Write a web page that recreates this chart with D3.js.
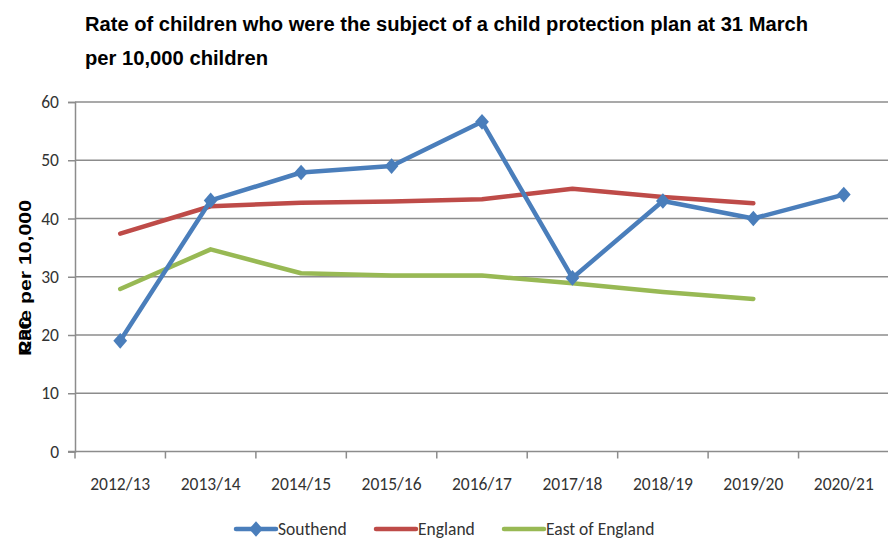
<!DOCTYPE html>
<html>
<head>
<meta charset="utf-8">
<script src="https://cdn.jsdelivr.net/npm/d3@7"></script>
<style>
  html, body { margin: 0; padding: 0; background: #fff; overflow: hidden; }
  svg { display: block; }
</style>
</head>
<body>
<svg id="chart" width="888" height="539"></svg>
<script>
// Rates per 10,000 children, at 31 March each year
const years = ["2012/13", "2013/14", "2014/15", "2015/16", "2016/17", "2017/18", "2018/19", "2019/20", "2020/21"];
const southend = [19.0, 43.1, 47.9, 49.0, 56.6, 29.8, 43.0, 40.0, 44.1];
const england = [37.4, 42.1, 42.7, 42.9, 43.3, 45.1, 43.7, 42.6, null];
const eastOfEngland = [27.9, 34.7, 30.6, 30.2, 30.2, 28.9, 27.4, 26.2, null];
const yTicks = [0, 10, 20, 30, 40, 50, 60];

const seriesList = [
  { name: "Southend", values: southend, color: "#4a7ebb", marker: true },
  { name: "England", values: england, color: "#be4b48", marker: false },
  { name: "East of England", values: eastOfEngland, color: "#98b954", marker: false }
];

const svg = d3.select("#chart");
const margin = { left: 75, right: 889, top: 102, bottom: 451.5 };

const x = d3.scaleBand().domain(years).range([margin.left, margin.right]).padding(0);
const y = d3.scaleLinear().domain([0, 60]).range([margin.bottom, margin.top]);

const labelFont = "Carlito, 'Liberation Sans', Arial, sans-serif";
const gridColor = "#8c8c8c";

// Title
const title = svg.append("g")
  .attr("font-family", "'Liberation Sans', Arial, sans-serif")
  .attr("font-weight", "bold")
  .attr("font-size", 20)
  .attr("fill", "#000");
title.append("text").attr("x", 85).attr("y", 31)
  .attr("textLength", 723).attr("lengthAdjust", "spacingAndGlyphs")
  .text("Rate of children who were the subject of a child  protection plan at 31 March");
title.append("text").attr("x", 85).attr("y", 65)
  .attr("textLength", 183).attr("lengthAdjust", "spacingAndGlyphs")
  .text("per 10,000 children");

// Horizontal gridlines
svg.append("g")
  .selectAll("line")
  .data(yTicks.filter(d => d > 0))
  .join("line")
  .attr("x1", margin.left).attr("x2", margin.right)
  .attr("y1", d => y(d)).attr("y2", d => y(d))
  .attr("stroke", gridColor).attr("stroke-width", 1.5);

// Y axis
const yAxis = svg.append("g")
  .attr("transform", `translate(${margin.left},0)`)
  .call(d3.axisLeft(y).tickValues(yTicks).tickSize(7).tickPadding(9).tickFormat(d3.format("d")));
yAxis.select(".domain").attr("stroke", gridColor).attr("stroke-width", 1.5);
yAxis.selectAll(".tick line").attr("stroke", gridColor).attr("stroke-width", 1.5);
yAxis.selectAll(".tick text")
  .attr("font-family", labelFont).attr("font-size", 17.5).attr("fill", "#333");

// X axis with tick marks at band boundaries
const xAxisG = svg.append("g").attr("transform", `translate(0,${margin.bottom})`);
xAxisG.append("line")
  .attr("x1", margin.left - 7).attr("x2", margin.right)
  .attr("stroke", gridColor).attr("stroke-width", 1.5);
xAxisG.selectAll("line.tk")
  .data(years)
  .join("line")
  .attr("class", "tk")
  .attr("x1", d => x(d)).attr("x2", d => x(d))
  .attr("y1", 0).attr("y2", 7)
  .attr("stroke", gridColor).attr("stroke-width", 1.5);
xAxisG.selectAll("text")
  .data(years)
  .join("text")
  .attr("x", d => x(d) + x.bandwidth() / 2)
  .attr("y", 38)
  .attr("text-anchor", "middle")
  .attr("font-family", labelFont).attr("font-size", 17.5).attr("fill", "#333")
  .text(d => d);

// Y axis title (two overlapping labels)
const yTitle = svg.append("g")
  .attr("transform", "translate(31,356) rotate(-90)")
  .attr("font-family", "'Liberation Sans', Arial, sans-serif")
  .attr("font-weight", "bold").attr("font-size", 17).attr("fill", "#000");
yTitle.append("text").attr("x", 0).attr("y", 0)
  .attr("textLength", 156).attr("lengthAdjust", "spacingAndGlyphs")
  .text("Rate per 10,000");
yTitle.append("text").attr("x", 3).attr("y", 0).text("CPC");

// Lines
const line = d3.line()
  .defined(d => d.v != null)
  .x(d => x(d.year) + x.bandwidth() / 2)
  .y(d => y(d.v));

const diamond = d3.symbol().type(d3.symbolSquare).size(105);

seriesList.slice().reverse().forEach(s => {
  const pts = years.map((yr, i) => ({ year: yr, v: s.values[i] }));
  svg.append("path")
    .datum(pts)
    .attr("d", line)
    .attr("fill", "none")
    .attr("stroke", s.color)
    .attr("stroke-width", 4.5)
    .attr("stroke-linejoin", "round")
    .attr("stroke-linecap", "round");
  if (s.marker) {
    svg.append("g").selectAll("path")
      .data(pts.filter(d => d.v != null))
      .join("path")
      .attr("transform", d => `translate(${x(d.year) + x.bandwidth() / 2},${y(d.v)}) scale(0.95,1.08) rotate(45)`)
      .attr("d", diamond)
      .attr("fill", s.color);
  }
});

// Legend
const legendItems = [
  { s: seriesList[0], x: 236 },
  { s: seriesList[1], x: 376 },
  { s: seriesList[2], x: 504 }
];
const legend = svg.append("g");
legendItems.forEach(it => {
  const g = legend.append("g").attr("transform", `translate(${it.x},529)`);
  g.append("line").attr("x1", 0).attr("x2", 40).attr("y1", 0).attr("y2", 0)
    .attr("stroke", it.s.color).attr("stroke-width", 4.5).attr("stroke-linecap", "round");
  if (it.s.marker) {
    g.append("path").attr("d", diamond).attr("transform", "translate(20,0) scale(0.95,1.08) rotate(45)")
      .attr("fill", it.s.color);
  }
  g.append("text").attr("x", 42).attr("y", 6)
    .attr("font-family", labelFont).attr("font-size", 17.5).attr("fill", "#333")
    .text(it.s.name);
});
</script>
</body>
</html>
